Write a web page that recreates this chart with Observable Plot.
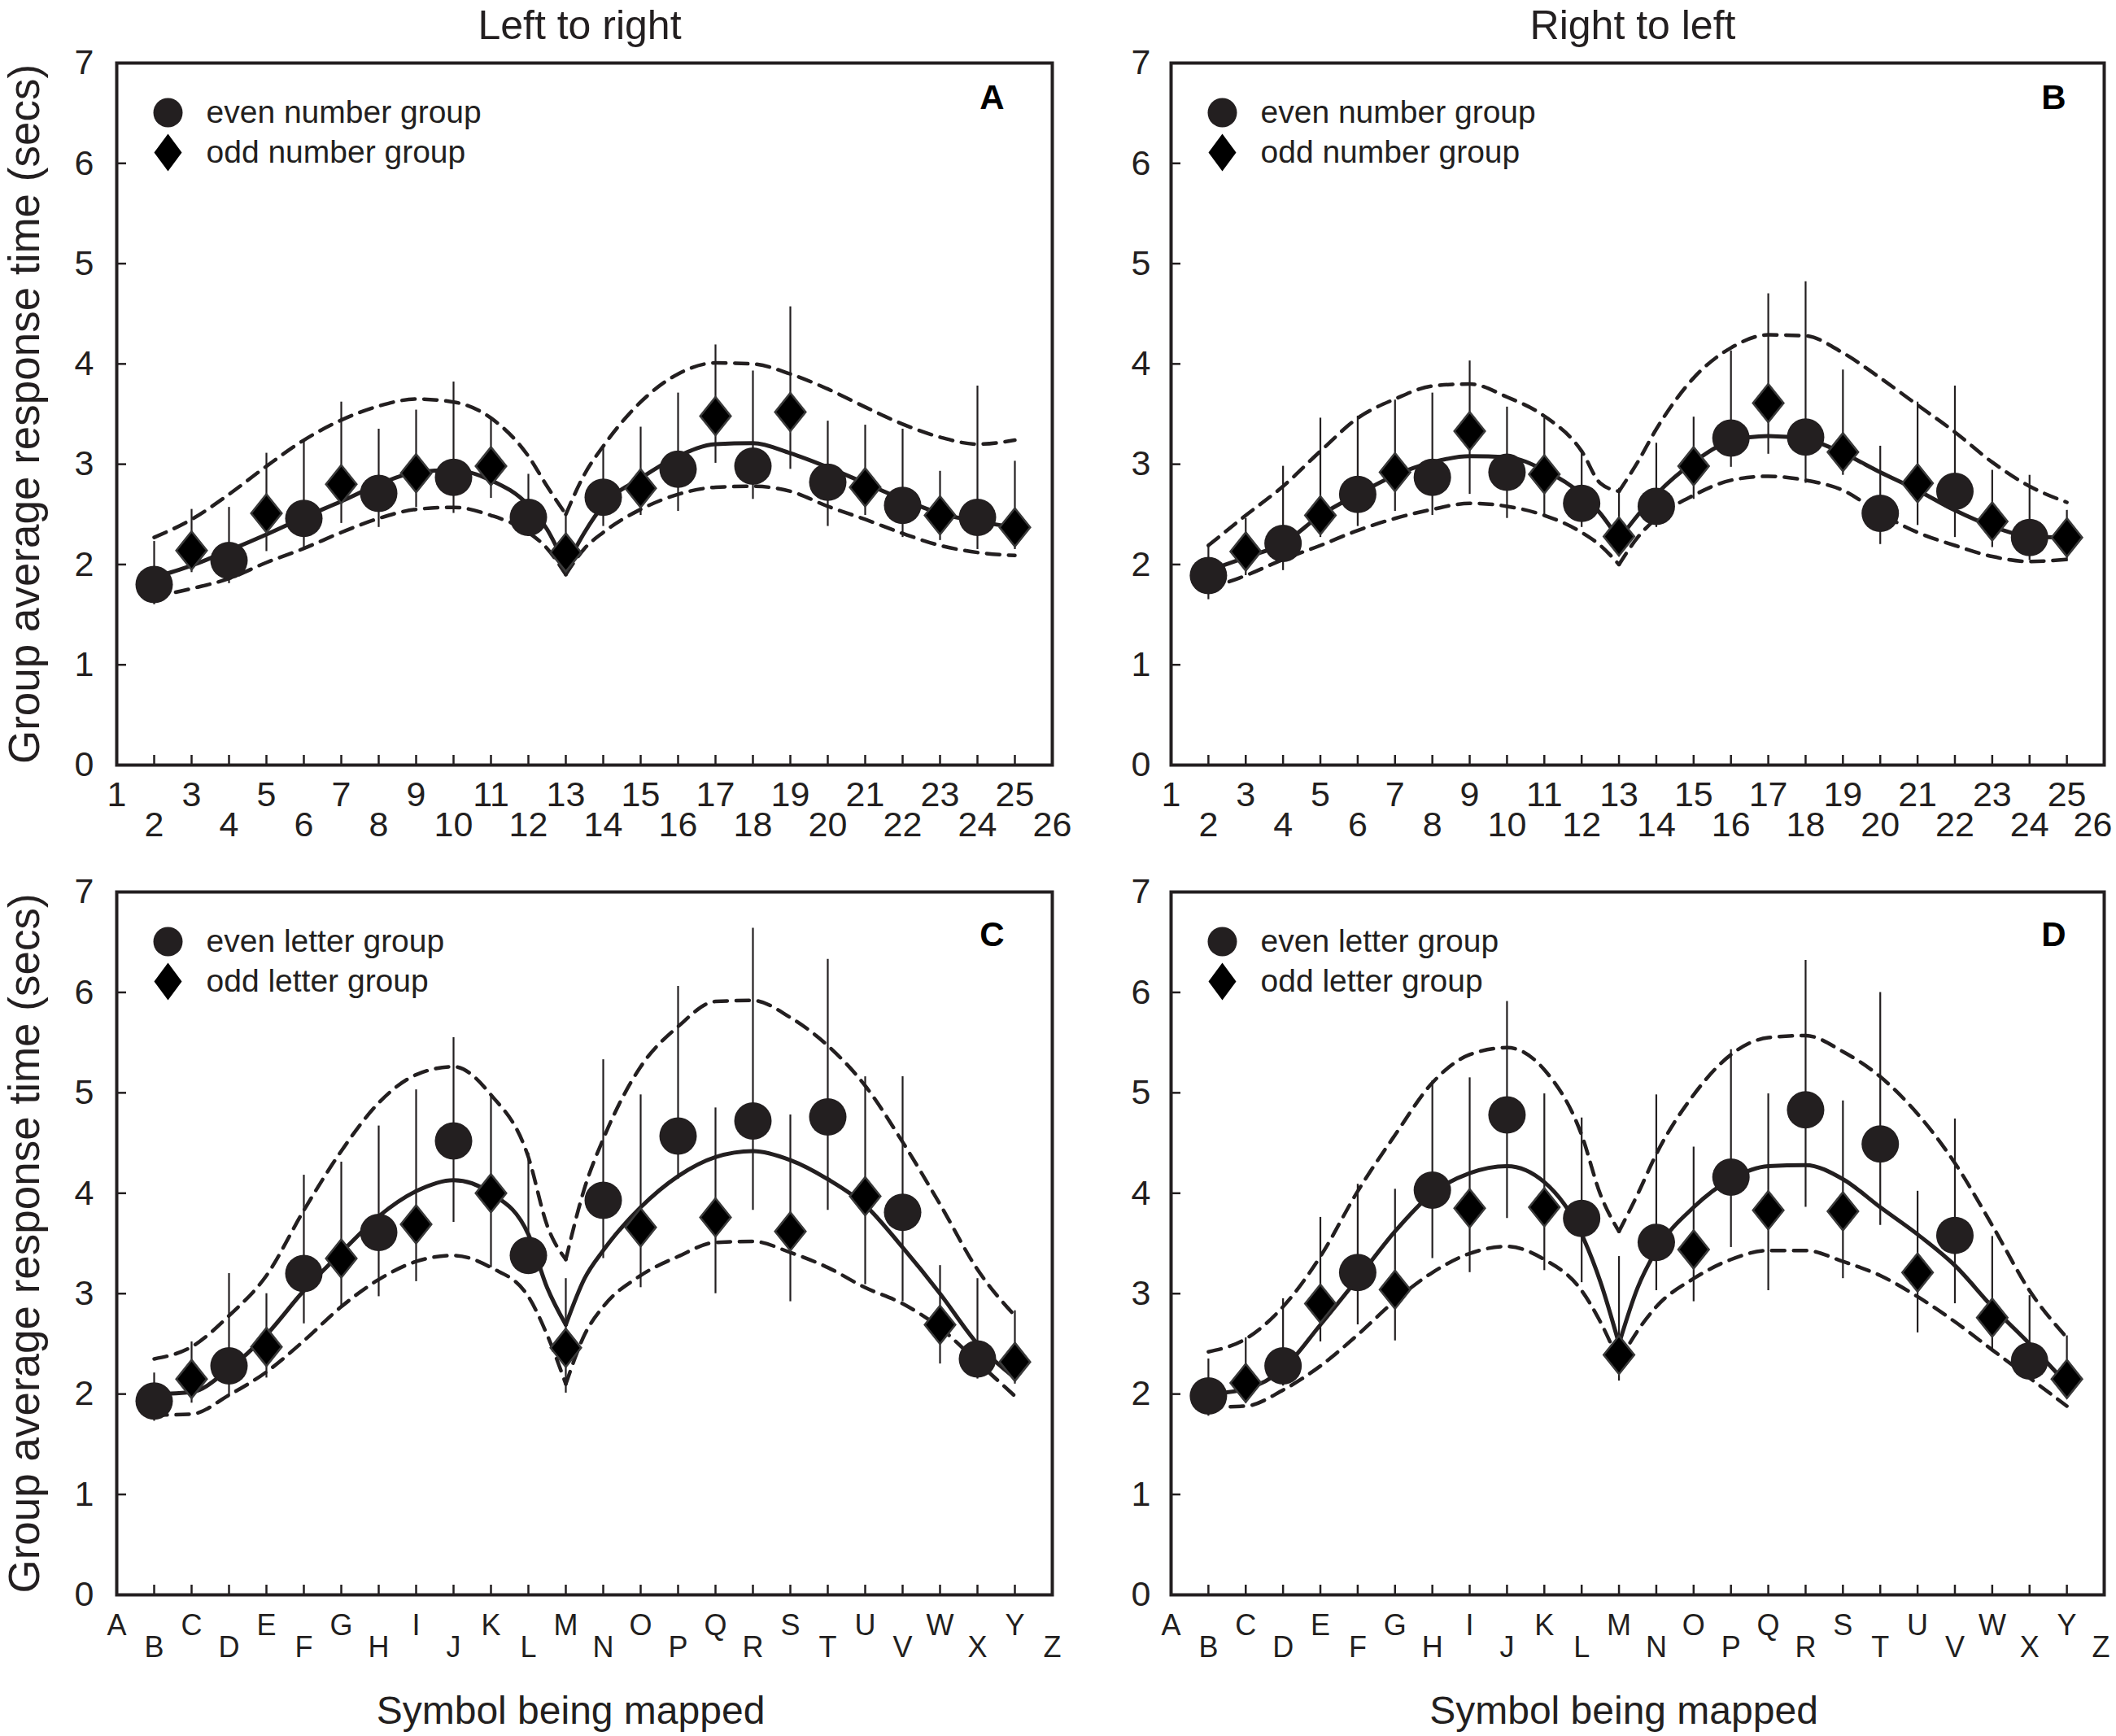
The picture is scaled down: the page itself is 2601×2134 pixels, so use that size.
<!DOCTYPE html>
<html><head><meta charset="utf-8">
<script src="https://cdn.jsdelivr.net/npm/d3@7"></script>
<script src="https://cdn.jsdelivr.net/npm/@observablehq/plot@0.6"></script>
<style>
html,body{margin:0;padding:0;background:#fff;}
#root{position:relative;width:2601px;height:2134px;overflow:hidden;background:#fff;}
.cell{position:absolute;}
</style></head><body><div id="root"></div>
<script>
// ---------- ticks / labels ----------
const xTickValues = [1,2,3,4,5,6,7,8,9,10,11,12,13,14,15,16,17,18,19,20,21,22,23,24,25,26];
const xTickOdd = [1,3,5,7,9,11,13,15,17,19,21,23,25];
const xTickEven = [2,4,6,8,10,12,14,16,18,20,22,24];
const xTickLast = [26];
const letters = ["A","B","C","D","E","F","G","H","I","J","K","L","M","N","O","P","Q","R","S","T","U","V","W","X","Y","Z"];
const yTickValues = [0,1,2,3,4,5,6,7];
const titles = ["Left to right", "Right to left"];
const yLabel = "Group average response time (secs)";
const xLabel = "Symbol being mapped";
const legendNumbers = ["even number group", "odd number group"];
const legendLetters = ["even letter group", "odd letter group"];
const panelLetters = ["A", "B", "C", "D"];

// ---------- positions of the symbols ----------
const evenX = [2,4,6,8,10,12,14,16,18,20,22,24];
const oddX = [3,5,7,9,11,13,15,17,19,21,23,25];
const fitLeftX = [2,3,4,5,6,7,8,9,10,11,12,12.5,13];
const fitRightX = [13,13.5,14,15,16,17,18,19,20,21,22,23,24,25];

// ---------- Panel A ----------
const A_even   = [1.80,2.04,2.46,2.71,2.87,2.47,2.67,2.95,2.98,2.82,2.59,2.47];
const A_evenHi = [2.23,2.57,3.24,3.35,3.82,2.90,3.17,3.71,3.93,3.43,3.35,3.78];
const A_evenLo = [1.60,1.81,2.17,2.37,2.51,2.28,2.38,2.53,2.65,2.38,2.27,2.15];
const A_odd    = [2.14,2.51,2.80,2.91,2.98,2.12,2.76,3.48,3.52,2.77,2.49,2.37];
const A_oddHi  = [2.55,3.11,3.62,3.54,3.47,2.50,3.37,4.19,4.57,3.39,2.93,3.03];
const A_oddLo  = [1.92,2.13,2.41,2.57,2.66,1.95,2.49,3.01,2.95,2.49,2.24,2.15];
const A_fitL   = [1.87,1.99,2.14,2.30,2.47,2.63,2.80,2.92,2.94,2.84,2.59,2.35,1.98];
const A_upL    = [2.27,2.45,2.70,2.98,3.24,3.44,3.58,3.65,3.62,3.46,3.08,2.78,2.50];
const A_loL    = [1.68,1.76,1.86,2.02,2.16,2.32,2.46,2.55,2.57,2.49,2.32,2.16,1.90];
const A_fitR   = [1.98,2.32,2.59,2.86,3.08,3.20,3.21,3.11,2.97,2.81,2.65,2.51,2.43,2.37];
const A_upR    = [2.50,2.90,3.18,3.62,3.90,4.01,4.00,3.90,3.75,3.57,3.40,3.27,3.20,3.24];
const A_loR    = [1.90,2.16,2.32,2.55,2.70,2.77,2.78,2.73,2.58,2.45,2.31,2.19,2.12,2.09];

// ---------- Panel B ----------
const B_even   = [1.89,2.21,2.70,2.87,2.92,2.61,2.58,3.26,3.27,2.51,2.73,2.27];
const B_evenHi = [2.20,2.98,3.48,3.71,3.57,3.13,3.21,4.13,4.82,3.18,3.78,2.89];
const B_evenLo = [1.65,1.94,2.38,2.49,2.46,2.37,2.37,2.97,2.81,2.20,2.27,2.04];
const B_odd    = [2.13,2.49,2.92,3.33,2.90,2.28,2.98,3.61,3.12,2.81,2.43,2.27];
const B_oddHi  = [2.46,3.46,3.64,4.03,3.46,2.76,3.47,4.70,3.94,3.62,2.94,2.54];
const B_oddLo  = [1.89,2.27,2.53,2.70,2.49,2.11,2.65,3.10,2.89,2.39,2.17,2.03];
const B_fitL   = [1.94,2.07,2.21,2.49,2.70,2.89,3.02,3.08,3.07,2.94,2.70,2.51,2.25];
const B_upL    = [2.19,2.49,2.78,3.13,3.46,3.65,3.78,3.80,3.67,3.48,3.13,2.81,2.73];
const B_loL    = [1.76,1.89,2.05,2.19,2.34,2.46,2.55,2.61,2.58,2.49,2.32,2.19,2.00];
const B_fitR   = [2.25,2.49,2.70,3.02,3.23,3.28,3.25,3.11,2.92,2.74,2.54,2.38,2.28,2.27];
const B_upR    = [2.73,3.02,3.35,3.86,4.16,4.29,4.28,4.11,3.86,3.59,3.32,3.02,2.78,2.62];
const B_loR    = [2.00,2.27,2.46,2.69,2.84,2.88,2.84,2.74,2.51,2.32,2.19,2.08,2.03,2.05];

// ---------- Panel C ----------
const C_even   = [1.93,2.28,3.20,3.61,4.52,3.38,3.93,4.57,4.72,4.76,3.81,2.35];
const C_evenHi = [2.21,3.20,4.18,4.67,5.55,4.40,5.33,6.06,6.64,6.33,5.16,3.15];
const C_evenLo = [1.73,1.98,2.70,2.97,3.71,3.21,3.35,4.14,3.83,3.83,2.92,2.15];
const C_odd    = [2.15,2.47,3.35,3.69,4.00,2.46,3.66,3.76,3.62,3.97,2.69,2.32];
const C_oddHi  = [2.52,3.00,4.31,5.03,4.98,3.15,4.98,4.85,4.78,5.16,3.28,2.83];
const C_oddLo  = [1.91,2.16,2.87,3.12,3.26,2.01,3.06,3.00,2.92,3.09,2.30,2.10];
const C_fitL   = [2.00,2.02,2.25,2.59,3.03,3.41,3.77,4.02,4.13,4.00,3.59,3.06,2.69];
const C_upL    = [2.35,2.47,2.78,3.18,3.83,4.42,4.90,5.18,5.26,4.98,4.36,3.68,3.34];
const C_loL    = [1.79,1.80,1.99,2.22,2.53,2.87,3.14,3.32,3.38,3.26,2.97,2.59,2.10];
const C_fitR   = [2.69,3.15,3.43,3.86,4.17,4.36,4.42,4.33,4.14,3.88,3.46,3.00,2.50,2.16];
const C_upR    = [3.34,4.05,4.54,5.26,5.66,5.91,5.92,5.75,5.47,5.07,4.51,3.89,3.24,2.78];
const C_loR    = [2.10,2.59,2.87,3.18,3.37,3.51,3.52,3.41,3.26,3.06,2.90,2.66,2.32,1.98];

// ---------- Panel D ----------
const D_even   = [1.98,2.28,3.21,4.03,4.78,3.75,3.51,4.16,4.83,4.49,3.58,2.33];
const D_evenHi = [2.35,2.95,4.09,5.12,5.91,4.75,4.98,5.43,6.32,6.00,4.74,2.98];
const D_evenLo = [1.78,2.08,2.69,3.35,3.75,3.11,3.03,3.46,3.86,3.68,2.90,2.15];
const D_odd    = [2.11,2.90,3.04,3.85,3.86,2.39,3.44,3.83,3.82,3.21,2.76,2.15];
const D_oddHi  = [2.56,3.76,4.04,5.15,4.99,3.37,4.46,4.99,4.92,4.02,3.57,2.58];
const D_oddLo  = [1.91,2.52,2.53,3.21,3.23,2.13,2.92,3.03,3.15,2.61,2.42,1.98];
const D_fitL   = [2.00,2.05,2.25,2.69,3.15,3.62,4.00,4.20,4.27,4.11,3.59,3.12,2.50];
const D_upL    = [2.42,2.55,2.87,3.37,4.02,4.58,5.10,5.38,5.45,5.23,4.58,3.99,3.62];
const D_loL    = [1.87,1.88,2.04,2.28,2.59,2.93,3.21,3.40,3.47,3.34,3.03,2.72,2.32];
const D_fitR   = [2.50,3.06,3.43,3.86,4.14,4.27,4.28,4.14,3.86,3.59,3.28,2.87,2.50,2.10];
const D_upR    = [3.62,3.99,4.39,4.98,5.38,5.55,5.57,5.41,5.16,4.79,4.30,3.68,3.03,2.56];
const D_loR    = [2.32,2.63,2.87,3.15,3.34,3.43,3.43,3.32,3.18,2.97,2.72,2.44,2.16,1.88];

// ---------- drawing ----------
const ink = "#231f20";
const FONT = "'Liberation Sans', Arial, Helvetica, sans-serif";

function diamondShape(aspect) {
  return {
    draw(context, size) {
      const r = Math.sqrt(size / Math.PI);
      const w = r * aspect;
      context.moveTo(0, -r);
      context.lineTo(w, 0);
      context.lineTo(0, r);
      context.lineTo(-w, 0);
      context.closePath();
    }
  };
}
const tallDiamond = diamondShape(0.8);
const legendDiamond = diamondShape(0.74);

function makePanel(cfg) {
  const {left, top, width, height, ml, mr, mt, mb} = cfg;
  const pw = width - ml - mr, ph = height - mt - mb;
  const pts = (xs, ys, lo, hi) => xs.map((x, i) => ({x, y: ys[i], lo: lo[i], hi: hi[i]}));
  const fit = (xs, ys, seg) => xs.map((x, i) => ({x, y: ys[i], seg}));
  const even = pts(evenX, cfg.even, cfg.evenLo, cfg.evenHi);
  const odd = pts(oddX, cfg.odd, cfg.oddLo, cfg.oddHi);
  const solid = [...fit(fitLeftX, cfg.fitL, "L"), ...fit(fitRightX, cfg.fitR, "R")];
  const upper = [...fit(fitLeftX, cfg.upL, "L"), ...fit(fitRightX, cfg.upR, "R")];
  const lower = [...fit(fitLeftX, cfg.loL, "L"), ...fit(fitRightX, cfg.loR, "R")];
  const fmt = cfg.letters ? (d => letters[d - 1]) : (d => String(d));

  const marks = [
    // inward ticks
    Plot.ruleX(xTickValues.slice(1, -1), {x: d => d, insetTop: ph - 12, stroke: ink, strokeWidth: 2.5}),
    Plot.ruleY(yTickValues.slice(1, -1), {y: d => d, insetRight: pw - 12, stroke: ink, strokeWidth: 2.5}),
    Plot.axisY({ticks: yTickValues, tickSize: 0, tickPadding: cfg.yPad, fontSize: 43, tickFormat: d => String(d), label: null, fill: ink}),
    Plot.axisX({ticks: xTickOdd, tickSize: 0, tickPadding: cfg.row1, fontSize: cfg.tickFont, tickFormat: fmt, label: null, fill: ink}),
    Plot.axisX({ticks: xTickEven, tickSize: 0, tickPadding: cfg.row2, fontSize: cfg.tickFont, tickFormat: fmt, label: null, fill: ink}),
    Plot.axisX({ticks: xTickLast, tickSize: 0, tickPadding: cfg.row2, fontSize: cfg.tickFont, tickFormat: fmt, label: null, fill: ink, dx: cfg.lastDx}),
    // fitted curves
    Plot.line(upper, {x: "x", y: "y", z: "seg", curve: "monotone-x", stroke: ink, strokeWidth: 4.5, strokeDasharray: "16,11"}),
    Plot.line(lower, {x: "x", y: "y", z: "seg", curve: "monotone-x", stroke: ink, strokeWidth: 4.5, strokeDasharray: "16,11"}),
    Plot.line(solid, {x: "x", y: "y", z: "seg", curve: "monotone-x", stroke: ink, strokeWidth: 5}),
    // error bars
    Plot.ruleX(even, {x: "x", y1: "lo", y2: "hi", stroke: ink, strokeWidth: 2.2}),
    Plot.ruleX(odd, {x: "x", y1: "lo", y2: "hi", stroke: ink, strokeWidth: 2.2}),
    // symbols
    Plot.dot(even, {x: "x", y: "y", r: 23, fill: ink, stroke: "none"}),
    Plot.dot(odd, {x: "x", y: "y", r: 23.5, symbol: tallDiamond, fill: "#000", stroke: "#3a3a3a", strokeWidth: 2.5}),
    Plot.frame({stroke: ink, strokeWidth: 4}),
    // legend
    Plot.dot([0], {frameAnchor: "top-left", dx: 63, dy: 61, r: 18, fill: ink, stroke: "none"}),
    Plot.dot([0], {frameAnchor: "top-left", dx: 63, dy: 110, r: 23, symbol: legendDiamond, fill: "#000", stroke: "none"}),
    Plot.text([cfg.legend[0]], {text: d => d, frameAnchor: "top-left", dx: 110, dy: 61, textAnchor: "start", lineAnchor: "middle", fontSize: 39, fill: ink}),
    Plot.text([cfg.legend[1]], {text: d => d, frameAnchor: "top-left", dx: 110, dy: 110, textAnchor: "start", lineAnchor: "middle", fontSize: 39, fill: ink}),
    // panel letter
    Plot.text([cfg.panel], {text: d => d, frameAnchor: "top-right", dx: cfg.letterDx, dy: cfg.letterDy, textAnchor: "middle", lineAnchor: "middle", fontSize: 42, fontWeight: "bold", fill: "#000"})
  ];
  if (cfg.title) marks.push(Plot.text([cfg.title], {text: d => d, frameAnchor: "top", dx: -6, dy: -46, textAnchor: "middle", lineAnchor: "middle", fontSize: 50, fill: ink}));
  if (cfg.ylabel) marks.push(Plot.text([yLabel], {text: d => d, frameAnchor: "left", dx: -112, rotate: -90, textAnchor: "middle", lineAnchor: "middle", fontSize: 53, fill: ink}));
  if (cfg.xlabel) marks.push(Plot.text([xLabel], {text: d => d, frameAnchor: "bottom", dx: -17, dy: 143, textAnchor: "middle", lineAnchor: "middle", fontSize: 48, fill: ink}));

  const chart = Plot.plot({
    width, height,
    marginLeft: ml, marginRight: mr, marginTop: mt, marginBottom: mb,
    style: {fontFamily: FONT, background: "transparent", overflow: "visible", color: ink},
    x: {domain: [1, 26], axis: null, label: null},
    y: {domain: [0, 7], axis: null, label: null},
    marks
  });
  const div = document.createElement("div");
  div.className = "cell";
  div.style.left = left + "px";
  div.style.top = top + "px";
  div.style.width = width + "px";
  div.style.height = height + "px";
  div.appendChild(chart);
  document.getElementById("root").appendChild(div);
}

const leftCol = {left: 0, width: 1310, ml: 143, mr: 17, yPad: 28, letterDx: -74, lastDx: 0};
const rightCol = {left: 1300, width: 1301, ml: 139, mr: 15, yPad: 25, letterDx: -62, lastDx: -14};
const topRow = {top: 0, height: 1058, mt: 77, mb: 118, row1: 20, row2: 57, tickFont: 43, letterDy: 43};
const botRow = {top: 1058, height: 1076, mt: 38, mb: 174, row1: 24, row2: 51, tickFont: 36, letterDy: 53, letters: true, xlabel: true};

makePanel({...leftCol, ...topRow, title: titles[0], ylabel: true, panel: panelLetters[0], legend: legendNumbers,
  even: A_even, evenHi: A_evenHi, evenLo: A_evenLo, odd: A_odd, oddHi: A_oddHi, oddLo: A_oddLo,
  fitL: A_fitL, upL: A_upL, loL: A_loL, fitR: A_fitR, upR: A_upR, loR: A_loR});
makePanel({...rightCol, ...topRow, title: titles[1], panel: panelLetters[1], legend: legendNumbers,
  even: B_even, evenHi: B_evenHi, evenLo: B_evenLo, odd: B_odd, oddHi: B_oddHi, oddLo: B_oddLo,
  fitL: B_fitL, upL: B_upL, loL: B_loL, fitR: B_fitR, upR: B_upR, loR: B_loR});
makePanel({...leftCol, ...botRow, ylabel: true, panel: panelLetters[2], legend: legendLetters,
  even: C_even, evenHi: C_evenHi, evenLo: C_evenLo, odd: C_odd, oddHi: C_oddHi, oddLo: C_oddLo,
  fitL: C_fitL, upL: C_upL, loL: C_loL, fitR: C_fitR, upR: C_upR, loR: C_loR});
makePanel({...rightCol, ...botRow, panel: panelLetters[3], legend: legendLetters, lastDx: -4,
  even: D_even, evenHi: D_evenHi, evenLo: D_evenLo, odd: D_odd, oddHi: D_oddHi, oddLo: D_oddLo,
  fitL: D_fitL, upL: D_upL, loL: D_loL, fitR: D_fitR, upR: D_upR, loR: D_loR});
</script>
</body></html>
